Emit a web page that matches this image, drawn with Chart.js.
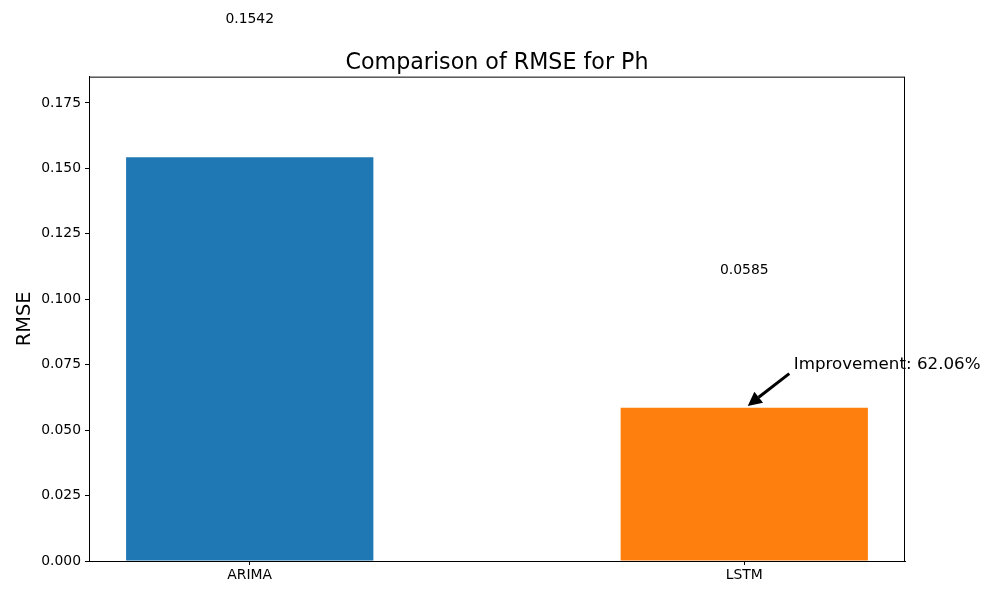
<!DOCTYPE html>
<html>
<head>
<meta charset="utf-8">
<script src="https://cdn.jsdelivr.net/npm/chart.js@4.4.1/dist/chart.umd.min.js"></script>
<style>
  html, body { margin: 0; padding: 0; background: #fff; }
  #wrap { width: 1000px; height: 600px; }
</style>
</head>
<body>
<div id="wrap"><canvas id="rmseChart" width="1000" height="600"></canvas></div>
<script>
// Chart data
const models = ['ARIMA', 'LSTM'];
const rmseValues = [0.1542, 0.0585];
const barColors = ['#1f77b4', '#ff7f0e'];
const yTicks = [0, 0.025, 0.05, 0.075, 0.1, 0.125, 0.15, 0.175];
const improvementPct = 62.06;

const labelOffset = 0.05;          // value labels sit this far above each bar
const yMax = Math.max(...rmseValues) * 1.2;
const noteAt = { x: 1.1, y: rmseValues[1] + 0.015 };

const FONT = 'DejaVu Sans, sans-serif';

// Bar value labels, frame and arrow annotation
const overlayPlugin = {
    id: 'overlay',
    afterDraw(chart) {
        const { ctx, chartArea, scales } = chart;
        const xs = scales.x, ys = scales.y;
        ctx.save();

        // axes frame (top/right sides)
        ctx.strokeStyle = '#000';
        ctx.lineWidth = 1;
        ctx.strokeRect(chartArea.left + 0.5, chartArea.top + 0.5,
            chartArea.right - chartArea.left - 1, chartArea.bottom - chartArea.top);

        // value labels
        ctx.fillStyle = '#000';
        ctx.font = '13.9px ' + FONT;
        ctx.textAlign = 'center';
        ctx.textBaseline = 'bottom';
        rmseValues.forEach((v, i) => {
            ctx.fillText(v.toFixed(4), xs.getPixelForValue(i), ys.getPixelForValue(v + labelOffset));
        });

        // annotation text
        const tx = xs.getPixelForValue(noteAt.x);
        const ty = ys.getPixelForValue(noteAt.y);
        ctx.font = '16.7px ' + FONT;
        ctx.textAlign = 'left';
        ctx.textBaseline = 'alphabetic';
        ctx.fillText('Improvement: ' + improvementPct.toFixed(2) + '%', tx, ty);

        // arrow from text to top of LSTM bar
        const px = xs.getPixelForValue(1);
        const py = ys.getPixelForValue(rmseValues[1]);
        const dx = px - tx, dy = py - ty;
        const len = Math.hypot(dx, dy);
        const ux = dx / len, uy = dy / len;
        const sx = tx + ux * len * 0.05 - 2, sy = ty + uy * len * 0.05 + 3;
        const ex = px - ux * len * 0.05 + 1, ey = py - uy * len * 0.05;
        const headLen = 14, headW = 7;
        const bx = ex - ux * headLen, by = ey - uy * headLen;
        ctx.strokeStyle = '#000';
        ctx.lineWidth = 3;
        ctx.beginPath();
        ctx.moveTo(sx, sy);
        ctx.lineTo(bx, by);
        ctx.stroke();
        ctx.beginPath();
        ctx.moveTo(ex, ey);
        ctx.lineTo(bx - uy * headW, by + ux * headW);
        ctx.lineTo(bx + uy * headW, by - ux * headW);
        ctx.closePath();
        ctx.fill();

        ctx.restore();
    }
};

window.addEventListener('DOMContentLoaded', () => {
    const ctx = document.getElementById('rmseChart').getContext('2d');
    new Chart(ctx, {
        type: 'bar',
        data: {
            datasets: [{
                data: models.map((m, i) => ({ x: i, y: rmseValues[i] })),
                backgroundColor: barColors,
                borderWidth: 0,
                barPercentage: 0.5,
                categoryPercentage: 1.0
            }]
        },
        options: {
            responsive: false,
            animation: false,
            devicePixelRatio: 1,
            layout: { padding: { left: 0, right: 95, top: 0, bottom: 0 } },
            plugins: {
                legend: { display: false },
                tooltip: { enabled: false },
                title: {
                    display: true,
                    fullSize: false,
                    text: 'Comparison of RMSE for Ph',
                    color: '#000',
                    font: { family: FONT, size: 22.2, weight: 'normal' },
                    padding: { top: 50, bottom: 0 }
                }
            },
            scales: {
                x: {
                    type: 'linear',
                    offset: false,
                    min: -0.325,
                    max: 1.325,
                    afterBuildTicks: s => { s.ticks = models.map((m, i) => ({ value: i })); },
                    afterFit: s => { s.height = 39; },
                    ticks: {
                        color: '#000',
                        font: { family: FONT, size: 13.9 },
                        padding: 2,
                        maxRotation: 0,
                        autoSkip: false,
                        callback: v => models[v]
                    },
                    grid: { offset: false, drawOnChartArea: false, drawTicks: true, tickLength: 4, color: '#000' },
                    border: { display: true, color: '#000', width: 1 }
                },
                y: {
                    min: 0,
                    max: yMax,
                    afterBuildTicks: s => { s.ticks = yTicks.map(v => ({ value: v })); },
                    afterFit: s => { s.width = 89; },
                    ticks: {
                        color: '#000',
                        font: { family: FONT, size: 13.9 },
                        padding: 4,
                        callback: v => v.toFixed(3)
                    },
                    title: {
                        display: true,
                        text: 'RMSE',
                        color: '#000',
                        font: { family: FONT, size: 19.4 },
                        padding: { top: 13, bottom: 0 }
                    },
                    grid: { drawOnChartArea: false, drawTicks: true, tickLength: 4, color: '#000' },
                    border: { display: true, color: '#000', width: 1 }
                }
            }
        },
        plugins: [overlayPlugin]
    });
});
</script>
</body>
</html>
